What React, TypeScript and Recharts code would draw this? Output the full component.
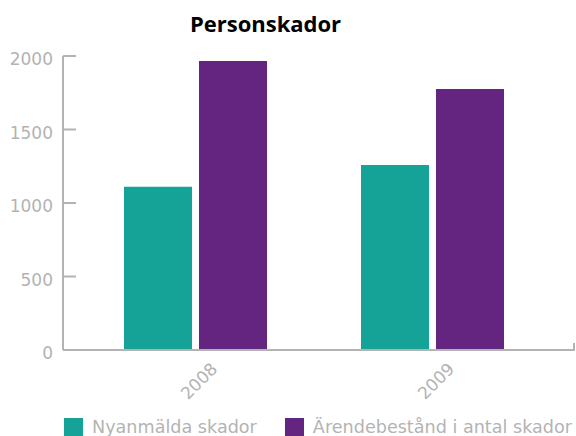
import React from 'react';
import { BarChart, Bar, XAxis, YAxis } from 'recharts';

const years = ['2008', '2009'];
const nyanmalda = [1110, 1258];
const arendebestand = [1966, 1776];
const yTicks = [0, 500, 1000, 1500, 2000];

const TEAL = '#16a397';
const PURPLE = '#63257f';
const GREY = '#b3b3b3';
const FONT = '"DejaVu Sans", Verdana, sans-serif';

const data = years.map((year, i) => ({
  year,
  nyanmalda: nyanmalda[i],
  arendebestand: arendebestand[i],
}));

const YTick = (props: any) => {
  const { x, y, payload } = props;
  return (
    <g>
      <line x1={x} x2={x + 13} y1={y} y2={y} stroke={GREY} strokeWidth={2} />
      <text x={x - 10} y={y + 9} textAnchor="end" fill={GREY} fontSize={17} fontFamily={FONT}>
        {payload.value}
      </text>
    </g>
  );
};

const XTick = (props: any) => {
  const { x, y, payload } = props;
  const ax = x + 23;
  const ay = y + 20;
  return (
    <text
      x={ax}
      y={ay}
      textAnchor="end"
      fill={GREY}
      fontSize={17}
      fontFamily={FONT}
      transform={`rotate(-45 ${ax} ${ay})`}
    >
      {payload.value}
    </text>
  );
};

const legendItems = [
  { label: 'Nyanmälda skador', color: TEAL },
  { label: 'Ärendebestånd i antal skador', color: PURPLE },
];

export default function App() {
  return (
    <div style={{ position: 'absolute', left: 0, top: 0, width: 576, height: 436, background: '#fff', overflow: 'hidden' }}>
      <div
        style={{
          position: 'absolute',
          left: 0,
          width: 531,
          top: 8,
          textAlign: 'center',
          fontFamily: '"Open Sans", sans-serif',
          fontWeight: 700,
          fontSize: 22,
          color: '#000',
          lineHeight: '30px',
        }}
      >
        Personskador
      </div>
      <BarChart
        width={576}
        height={436}
        data={data}
        margin={{ top: 56, right: 1, bottom: 56, left: 0 }}
        barSize={68}
        barGap={7}
      >
        <XAxis
          dataKey="year"
          height={30}
          padding={{ left: 14, right: 24 }}
          axisLine={{ stroke: GREY, strokeWidth: 2 }}
          tickLine={false}
          tickSize={0}
          tickMargin={0}
          tick={<XTick />}
          interval={0}
        />
        <YAxis
          width={63}
          domain={[0, 2000]}
          ticks={yTicks}
          axisLine={{ stroke: GREY, strokeWidth: 2 }}
          tickLine={false}
          tickSize={0}
          tickMargin={0}
          tick={<YTick />}
        />
        <Bar dataKey="nyanmalda" name="Nyanmälda skador" fill={TEAL} isAnimationActive={false} />
        <Bar dataKey="arendebestand" name="Ärendebestånd i antal skador" fill={PURPLE} isAnimationActive={false} />
      </BarChart>
      {/* small end tick on the x axis */}
      <div style={{ position: 'absolute', left: 573, top: 343, width: 2, height: 8, background: GREY }} />
      <div style={{ position: 'absolute', left: 64, top: 417, display: 'flex', alignItems: 'center' }}>
        {legendItems.map((item, i) => (
          <div key={item.label} style={{ display: 'flex', alignItems: 'center', marginRight: i === 0 ? 28 : 0 }}>
            <div style={{ width: 19, height: 19, background: item.color, marginRight: 9 }} />
            <span style={{ color: GREY, fontSize: 17.6, fontFamily: FONT, whiteSpace: 'nowrap', lineHeight: '20px' }}>
              {item.label}
            </span>
          </div>
        ))}
      </div>
    </div>
  );
}
